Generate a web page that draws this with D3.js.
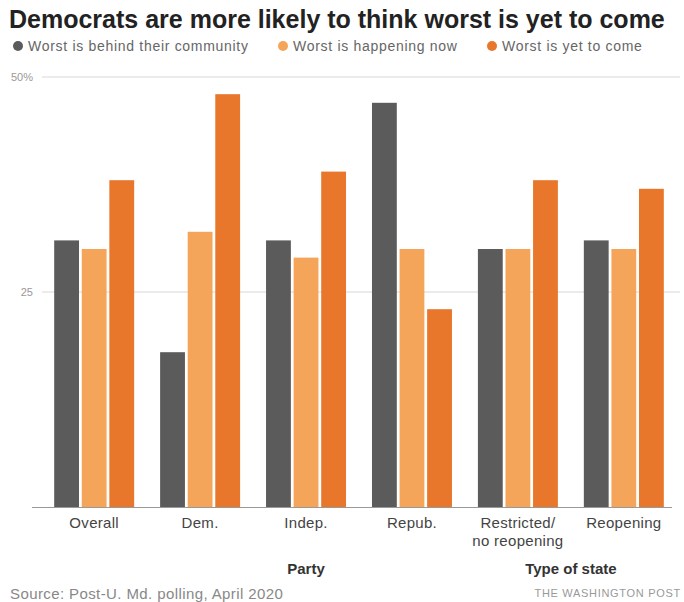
<!DOCTYPE html>
<html>
<head>
<meta charset="utf-8">
<script src="https://cdn.jsdelivr.net/npm/d3@7"></script>
<style>
  body { margin: 0; background: #fff; }
  svg { font-family: "Liberation Sans", Arial, sans-serif; }
  .title { font-size: 25px; font-weight: bold; fill: #222; }
  .legend text { font-size: 14px; fill: #666; letter-spacing: 0.7px; }
  .y-axis text { font-size: 11px; fill: #999; }
  .x-axis text { font-size: 15px; fill: #444; letter-spacing: 0.3px; }
  .group-label { font-size: 15px; font-weight: bold; fill: #333; }
  .source { font-size: 15px; fill: #888; letter-spacing: 0.4px; }
  .credit { font-size: 11px; fill: #999; letter-spacing: 0.7px; }
</style>
</head>
<body>
<div id="chart"></div>
<script>
// Data
const categories = ["Overall", "Dem.", "Indep.", "Repub.", "Restricted/\nno reopening", "Reopening"];
const seriesNames = ["Worst is behind their community", "Worst is happening now", "Worst is yet to come"];
const behind = [31, 18, 31, 47, 30, 31];
const happening = [30, 32, 29, 30, 30, 30];
const yetToCome = [38, 48, 39, 23, 38, 37];
const yTicks = [25, 50];
const colors = ["#5b5b5b", "#f5a55a", "#e8772b"];

const width = 684, height = 602;

const svg = d3.select("#chart")
    .append("svg")
    .attr("width", width)
    .attr("height", height);

// Scales
const x0 = d3.scaleBand()
    .domain(categories)
    .range([33, 685])
    .paddingInner(0.245)
    .paddingOuter(0.2);

const x1 = d3.scaleBand()
    .domain(seriesNames)
    .range([0, x0.bandwidth()])
    .paddingInner(0.1);

const y = d3.scaleLinear().domain([0, 50]).range([507, 77]);

const color = d3.scaleOrdinal().domain(seriesNames).range(colors);

const rows = categories.map((c, i) => ({
    category: c,
    values: [behind[i], happening[i], yetToCome[i]]
}));

// Title
svg.append("text")
    .attr("class", "title")
    .attr("x", 9)
    .attr("y", 28)
    .text("Democrats are more likely to think worst is yet to come");

// Legend
const legendX = [18, 283, 492];
const legend = svg.append("g").attr("class", "legend");
seriesNames.forEach((name, i) => {
    const g = legend.append("g").attr("transform", `translate(${legendX[i]},46)`);
    g.append("circle").attr("r", 5).attr("fill", colors[i]);
    g.append("text").attr("x", 10).attr("dy", "0.35em").text(name);
});

// Gridlines + y axis
const yAxis = d3.axisLeft(y)
    .tickValues(yTicks)
    .tickSize(0)
    .tickFormat(d => d === 50 ? "50%" : d);

svg.append("g")
    .attr("class", "grid")
    .selectAll("line")
    .data(yTicks)
    .join("line")
    .attr("x1", 42)
    .attr("x2", 680)
    .attr("y1", d => y(d))
    .attr("y2", d => y(d))
    .attr("stroke", "#e4e4e4")
    .attr("stroke-width", 1.5);

svg.append("g")
    .attr("class", "y-axis")
    .attr("transform", "translate(36,0)")
    .call(yAxis)
    .call(g => g.select(".domain").remove());

// Bars
svg.append("g")
    .selectAll("g")
    .data(rows)
    .join("g")
    .attr("transform", d => `translate(${x0(d.category)},0)`)
    .selectAll("rect")
    .data(d => d.values.map((v, i) => ({ key: seriesNames[i], value: v })))
    .join("rect")
    .attr("x", d => x1(d.key))
    .attr("width", x1.bandwidth())
    .attr("y", d => y(d.value))
    .attr("height", d => y(0) - y(d.value))
    .attr("fill", d => color(d.key));

// Baseline
svg.append("line")
    .attr("x1", 32)
    .attr("x2", 672)
    .attr("y1", y(0) + 0.5)
    .attr("y2", y(0) + 0.5)
    .attr("stroke", "#999")
    .attr("stroke-width", 1);

// X axis labels
const xAxis = d3.axisBottom(x0).tickSize(0).tickFormat("");
const xg = svg.append("g")
    .attr("class", "x-axis")
    .attr("transform", `translate(0,${y(0)})`)
    .call(xAxis)
    .call(g => g.select(".domain").remove());

xg.selectAll(".tick").append("text")
    .attr("fill", "#444")
    .attr("text-anchor", "middle")
    .selectAll("tspan")
    .data(d => d.split("\n"))
    .join("tspan")
    .attr("x", 0)
    .attr("y", (d, i) => 21 + i * 18)
    .text(d => d);

// Group labels
const groups = [
    { label: "Party", from: "Dem.", to: "Repub." },
    { label: "Type of state", from: "Restricted/\nno reopening", to: "Reopening" }
];
svg.selectAll(".group-label")
    .data(groups)
    .join("text")
    .attr("class", "group-label")
    .attr("text-anchor", "middle")
    .attr("x", d => (x0(d.from) + x0(d.to) + x0.bandwidth()) / 2)
    .attr("y", 574)
    .text(d => d.label);

// Footer
svg.append("text")
    .attr("class", "source")
    .attr("x", 10)
    .attr("y", 599)
    .text("Source: Post-U. Md. polling, April 2020");

svg.append("text")
    .attr("class", "credit")
    .attr("x", 681)
    .attr("y", 597)
    .attr("text-anchor", "end")
    .text("THE WASHINGTON POST");
</script>
</body>
</html>
